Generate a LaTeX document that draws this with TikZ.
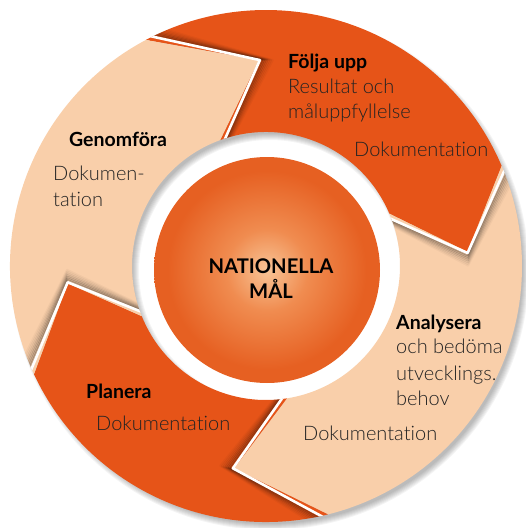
\documentclass[tikz,border=0pt]{standalone}
\usepackage{fontspec}
\setmainfont{Lato}
\newfontfamily\lightfont{Lato Light}[Ligatures={NoCommon,NoRare}]
\usetikzlibrary{calc}
\definecolor{dorange}{RGB}{230,84,24}
\definecolor{peach}{RGB}{249,207,170}
\definecolor{txt}{RGB}{35,35,35}
\definecolor{cl}{RGB}{248,196,150}
\definecolor{cm}{RGB}{240,140,80}
\definecolor{co}{RGB}{230,96,34}
\pgfdeclareradialshading{ctrshade}{\pgfpoint{0bp}{0bp}}{color(0bp)=(cl); color(9bp)=(cm); color(22bp)=(co); color(25bp)=(co); color(50bp)=(co)}
\begin{document}
\begin{tikzpicture}[x=1pt,y=1pt,
  head/.style={font=\bfseries\fontsize{19.5}{23}\selectfont, text=black, anchor=base west, inner sep=0pt},
  body/.style={font=\lightfont\fontsize{20}{25}\selectfont, text=txt, anchor=base west, inner sep=0pt},
  ctext/.style={font=\bfseries\fontsize{20.2}{25}\selectfont, text=black, anchor=base, inner sep=0pt}]
\useasboundingbox (0,0) rectangle (526,-528);
\def\R{256}
\def\r{134}
\begin{scope}[shift={(266,-266)}]
  % soft drop shadow of the ring
  \foreach \k in {0,...,6}
    \fill[black,opacity=0.045,even odd rule] (4,-5) circle[radius={\R-3+\k}] (4,-5) circle[radius={\r+3-\k}];
  % Följa upp
  \fill[dorange] (118:\R) arc[start angle=118,end angle=23,radius=\R] -- (4:202) -- (23:\r)
     arc[start angle=23,end angle=110,radius=\r] -- (92:206) -- cycle;
  % Analysera
  \fill[peach] (23:\R) arc[start angle=23,end angle=-76,radius=\R] -- (-99:205) -- (-81:\r)
     arc[start angle=-81,end angle=23,radius=\r] -- (4:202) -- cycle;
  % Planera
  \fill[dorange] (-76:\R) arc[start angle=-76,end angle=-155,radius=\R] -- (-175:199) -- (-158:\r)
     arc[start angle=-158,end angle=-81,radius=\r] -- (-99:205) -- cycle;
  % Genomföra
  \fill[peach] (-155:\R) arc[start angle=-155,end angle=-242,radius=\R] -- (-268:206) -- (-250:\r)
     arc[start angle=-250,end angle=-158,radius=\r] -- (-175:199) -- cycle;
  % gaps and shadows between the arrows
  \begin{scope}[even odd rule]
    \clip (0,0) circle[radius=\R] (0,0) circle[radius=\r];
    \foreach \o/\i/\t/\p in {118/110/92/206, 23/23/4/202, -76/-81/-99/205, -155/-158/-175/199} {
      \foreach \d/\op in {0.9/0.22, 1.4/0.2, 1.9/0.16, 2.4/0.12, 2.9/0.08, 3.4/0.05, 3.9/0.03}
        \draw[black,opacity=\op,line width=2pt,line join=round] ({\o-\d}:{\R+5}) -- ({\t-\d}:\p) -- ({\i-\d}:{\r-5});
      \draw[white,line width=2.6pt,line join=round] ({\o-0.3}:{\R+5}) -- ({\t-0.3}:\p) -- ({\i-0.3}:{\r-5});
    }
  \end{scope}
\end{scope}
% central circle
\shade[shading=ctrshade] (267,-270) circle[radius=113];
\node[ctext] (n1) at (271,-273) {NATIONELLA};
\node[ctext] (n2) at (271,-298) {MÅL};
% Följa upp
\node[head] (fh) at (288,-68) {Följa upp};
\node[body] (f1) at (288,-93) {Resultat och};
\node[body] (f2) at (288,-118) {måluppfyllelse};
\node[body] (f3) at (354,-156) {Dokumentation};
% Genomföra
\node[head] (gh) at (69,-146) {Genomföra};
\node[body] (g1) at (53,-180) {Dokumen-};
\node[body] (g2) at (53,-206) {tation};
% Analysera
\node[head] (ah) at (396,-329) {Analysera};
\node[body] (a1) at (396,-353) {och bedöma};
\node[body] (a2) at (396,-380) {utvecklings.};
\node[body] (a3) at (396,-405) {behov};
\node[body] (a4) at (303,-440) {Dokumentation};
% Planera
\node[head] (ph) at (86,-398) {Planera};
\node[body] (p1) at (96,-430) {Dokumentation};
\end{tikzpicture}
\end{document}
